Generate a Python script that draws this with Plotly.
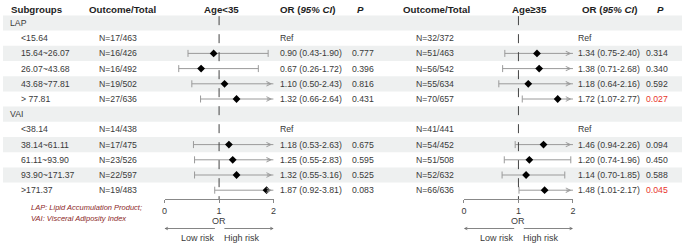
import plotly.graph_objects as go

# ---------------- data ----------------
subgroups = ["LAP", "<15.64", "15.64~26.07", "26.07~43.68", "43.68~77.81", "> 77.81",
             "VAI", "<38.14", "38.14~61.11", "61.11~93.90", "93.90~171.37", ">171.37"]
group_rows = [True, False, False, False, False, False, True, False, False, False, False, False]
ref_rows = [False, True, False, False, False, False, False, True, False, False, False, False]

young_n = ["", "N=17/463", "N=16/426", "N=16/492", "N=19/502", "N=27/636",
           "", "N=14/438", "N=17/475", "N=23/526", "N=22/597", "N=19/483"]
young_or = [None, None, 0.90, 0.67, 1.10, 1.32, None, None, 1.18, 1.25, 1.32, 1.87]
young_lo = [None, None, 0.43, 0.26, 0.50, 0.66, None, None, 0.53, 0.55, 0.55, 0.92]
young_hi = [None, None, 1.90, 1.72, 2.43, 2.64, None, None, 2.63, 2.83, 3.16, 3.81]
young_p = ["", "", "0.777", "0.396", "0.816", "0.431", "", "", "0.675", "0.595", "0.525", "0.083"]

old_n = ["", "N=32/372", "N=51/463", "N=56/542", "N=55/634", "N=70/657",
         "", "N=41/441", "N=54/452", "N=51/508", "N=52/632", "N=66/636"]
old_or = [None, None, 1.34, 1.38, 1.18, 1.72, None, None, 1.46, 1.20, 1.14, 1.48]
old_lo = [None, None, 0.75, 0.71, 0.64, 1.07, None, None, 0.94, 0.74, 0.70, 1.01]
old_hi = [None, None, 2.40, 2.68, 2.16, 2.77, None, None, 2.26, 1.96, 1.85, 2.17]
old_p = ["", "", "0.314", "0.340", "0.592", "0.027", "", "", "0.094", "0.450", "0.588", "0.045"]

axis_ticks = [0, 1, 2]
axis_max = 2

# ---------------- layout helpers ----------------
W, H = 685, 245
ROW0, ROWH = 23.0, 15.2


def row_of(px):
    return (px - ROW0) / ROWH


def px(x):
    return x / W


FONT = "Liberation Sans, Arial, sans-serif"
TXT = "#3a3a3a"
HDR = "#1e1e1e"
GRAY = "#9a9a9a"
SHADE = "#eef0f0"
RED = "#e8352b"

fig = go.Figure()
annotations = []
shapes = []

rows = list(range(len(subgroups)))

# shaded alternating bands
for i in rows:
    if i % 2 == 0:
        shapes.append(dict(type="rect", xref="paper", yref="y", x0=0, x1=1,
                           y0=i - 0.5, y1=i + 0.5, fillcolor=SHADE,
                           line=dict(width=0), layer="below"))


def esc(s):
    return s.replace("<", "&lt;").replace(">", "&gt;")


def add_text(x, y, text, size=8.7, color=TXT, anchor="left"):
    annotations.append(dict(x=px(x), y=y, xref="paper", yref="y", text=text,
                            showarrow=False, xanchor=anchor, yanchor="middle",
                            font=dict(size=size, color=color, family=FONT)))


hy = row_of(9)
add_text(6, hy, "<b>Subgroups</b>", 9.7, HDR)
add_text(85, hy, "<b>Outcome/Total</b>", 9.7, HDR)
add_text(220, hy, "<b>Age&lt;35</b>", 9.7, HDR, "center")
add_text(277, hy, "<b>OR (<i>95% CI</i>)</b>", 9.7, HDR)
add_text(355, hy, "<b><i>P</i></b>", 9.7, HDR)
add_text(402, hy, "<b>Outcome/Total</b>", 9.7, HDR)
add_text(531, hy, "<b>Age≥35</b>", 9.7, HDR, "center")
add_text(582, hy, "<b>OR (<i>95% CI</i>)</b>", 9.7, HDR)
add_text(658, hy, "<b><i>P</i></b>", 9.7, HDR)


def or_text(o, lo, hi, ref):
    if ref:
        return "Ref"
    if o is None:
        return ""
    return f"{o:.2f} ({lo:.2f}-{hi:.2f})"


for i in rows:
    add_text(5 if group_rows[i] else 16, i, esc(subgroups[i]))
    if young_n[i]:
        add_text(95, i, young_n[i])
    if old_n[i]:
        add_text(415, i, old_n[i])
    t = or_text(young_or[i], young_lo[i], young_hi[i], ref_rows[i])
    if t:
        add_text(277, i, t)
    t = or_text(old_or[i], old_lo[i], old_hi[i], ref_rows[i])
    if t:
        add_text(578, i, t)
    if young_p[i]:
        add_text(350, i, young_p[i], color=RED if float(young_p[i]) < 0.05 else TXT)
    if old_p[i]:
        add_text(647, i, old_p[i], color=RED if float(old_p[i]) < 0.05 else TXT)

add_text(26, row_of(207), "<i>LAP: Lipid Accumulation Product;</i>", 7.5, "#8b1f1f")
add_text(26, row_of(218), "<i>VAI: Visceral Adiposity Index</i>", 7.5, "#8b1f1f")

axis_y = row_of(199)


def forest(xa, ors, los, his):
    xs, ys = [], []
    capx, capy, topx, topy = [], [], [], []
    for i in rows:
        if ors[i] is None:
            continue
        hi = min(his[i], axis_max)
        xs += [los[i], hi, None]
        ys += [i, i, None]
        capx.append(los[i]); capy.append(i)
        if his[i] <= axis_max:
            topx.append(his[i]); topy.append(i)
        else:
            annotations.append(dict(x=axis_max - 0.03, y=i, ax=axis_max - 0.15, ay=i,
                                    xref=xa, yref="y", axref=xa, ayref="y",
                                    text="", showarrow=True, arrowhead=5,
                                    arrowsize=0.9, arrowwidth=1, arrowcolor=GRAY,
                                    standoff=0, startstandoff=0))
    fig.add_trace(go.Scatter(x=xs, y=ys, mode="lines", xaxis=xa, yaxis="y",
                             line=dict(color=GRAY, width=1), hoverinfo="skip",
                             showlegend=False))
    fig.add_trace(go.Scatter(x=capx + topx, y=capy + topy, mode="markers",
                             xaxis=xa, yaxis="y",
                             marker=dict(symbol="line-ns", size=5,
                                         line=dict(color=GRAY, width=1)),
                             hoverinfo="skip", showlegend=False))
    px_, py_ = [], []
    for i in rows:
        if ors[i] is not None:
            px_.append(ors[i]); py_.append(i)
    fig.add_trace(go.Scatter(x=px_, y=py_, mode="markers", xaxis=xa, yaxis="y",
                             marker=dict(symbol="diamond", size=6, color="black"),
                             showlegend=False))
    # reference dashed line
    shapes.append(dict(type="line", xref=xa, yref="y", x0=1, x1=1,
                       y0=-0.45, y1=axis_y, line=dict(color="#444", width=1, dash="dash")))
    # OR label and risk arrows
    annotations.append(dict(x=1, y=row_of(221), xref=xa, yref="y", text="OR",
                            showarrow=False, font=dict(size=9, color=TXT, family=FONT)))
    ay = row_of(228.5)
    annotations.append(dict(x=0, y=ay, ax=0.95, ay=ay, xref=xa, yref="y",
                            axref=xa, ayref="y", text="", showarrow=True,
                            arrowhead=5, arrowsize=0.7, arrowwidth=0.8,
                            arrowcolor="#666", standoff=0, startstandoff=0))
    annotations.append(dict(x=2, y=ay, ax=1.07, ay=ay, xref=xa, yref="y",
                            axref=xa, ayref="y", text="", showarrow=True,
                            arrowhead=5, arrowsize=0.7, arrowwidth=0.8,
                            arrowcolor="#666", standoff=0, startstandoff=0))
    ly = row_of(238)
    annotations.append(dict(x=0.96, y=ly, xref=xa, yref="y", text="Low risk",
                            showarrow=False, xanchor="right",
                            font=dict(size=9, color=TXT, family=FONT)))
    annotations.append(dict(x=1.05, y=ly, xref=xa, yref="y", text="High risk",
                            showarrow=False, xanchor="left",
                            font=dict(size=9, color=TXT, family=FONT)))


forest("x2", young_or, young_lo, young_hi)
forest("x3", old_or, old_lo, old_hi)

axis_common = dict(range=[0, axis_max], tickvals=axis_ticks, ticks="outside",
                   ticklen=3, tickcolor="#888", showline=True, linecolor="#888",
                   linewidth=1, showgrid=False, zeroline=False, anchor="free",
                   position=(H - 199) / H,
                   tickfont=dict(size=9, color=TXT, family=FONT), fixedrange=True)

fig.update_layout(
    width=W, height=H,
    margin=dict(l=0, r=0, t=0, b=0),
    paper_bgcolor="white", plot_bgcolor="rgba(0,0,0,0)",
    xaxis=dict(visible=False, range=[0, 1], domain=[0, 1]),
    xaxis2=dict(domain=[163 / W, 273 / W], **axis_common),
    xaxis3=dict(domain=[465 / W, 575 / W], **axis_common),
    yaxis=dict(visible=False, range=[row_of(H), row_of(0)], domain=[0, 1],
               anchor="x2", fixedrange=True),
    annotations=annotations,
    shapes=shapes,
    showlegend=False,
)

fig.write_html("out.html", config={"displayModeBar": False},
               post_script="document.body.style.margin='0';document.body.style.overflow='hidden';")
